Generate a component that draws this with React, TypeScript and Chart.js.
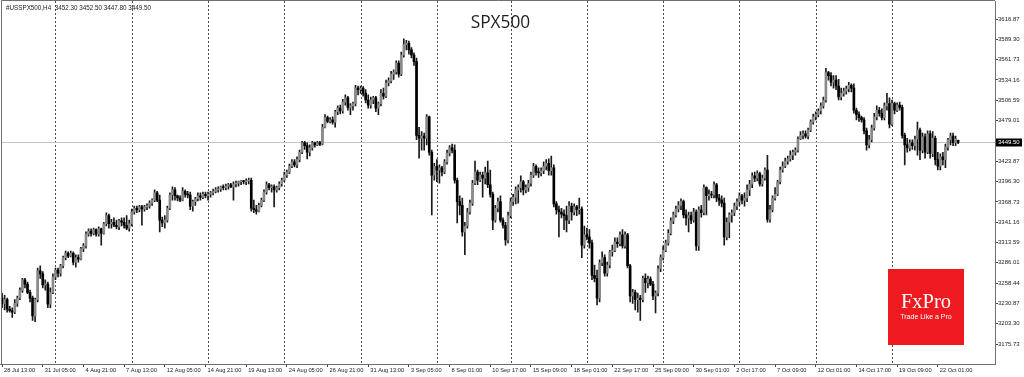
import React, { useEffect, useRef } from "react";
import { Chart, registerables } from "chart.js";

Chart.register(...registerables);

const symbolHeader = "#USSPX500,H4  3452.30 3452.50 3447.80 3449.50";
const chartTitle = "SPX500";
const logoMain = "FxPro";
const logoSub = "Trade Like a Pro";

const opens = [
  3238,3231,3236,3223,3221,3219,3231,3238,3249,3263,
  3257,3246,3238,3214,3236,3275,3271,3256,3257,3230,
  3246,3267,3276,3272,3282,3293,3299,3295,3299,3287,
  3293,3291,3305,3309,3325,3329,3326,3331,3325,3332,
  3326,3339,3350,3339,3341,3337,3335,3343,3341,3337,
  3333,3339,3355,3360,3358,3362,3359,3362,3363,3367,
  3371,3381,3371,3344,3340,3344,3360,3378,3385,3377,
  3374,3371,3383,3379,3378,3363,3369,3373,3377,3375,
  3379,3377,3379,3381,3383,3385,3386,3389,3388,3390,
  3392,3389,3393,3394,3396,3397,3396,3397,3398,3360,
  3358,3356,3364,3371,3382,3392,3388,3389,3385,3388,
  3393,3398,3405,3409,3417,3423,3419,3426,3436,3449,
  3445,3436,3442,3449,3446,3449,3447,3470,3483,3478,
  3480,3477,3491,3496,3492,3504,3510,3497,3499,3502,
  3523,3521,3523,3516,3507,3500,3507,3510,3496,3502,
  3516,3512,3530,3533,3542,3545,3557,3542,3568,3582,
  3584,3575,3568,3559,3459,3455,3458,3455,3484,3436,
  3405,3417,3412,3415,3409,3423,3435,3442,3439,3398,
  3369,3364,3328,3336,3355,3367,3394,3409,3398,3405,
  3401,3408,3392,3379,3344,3360,3369,3344,3337,3317,
  3350,3369,3375,3385,3388,3396,3385,3388,3394,3405,
  3417,3409,3408,3411,3417,3421,3411,3415,3366,3358,
  3355,3352,3350,3344,3363,3355,3362,3358,3359,3310,
  3324,3321,3313,3269,3265,3238,3286,3293,3272,3283,
  3301,3303,3314,3312,3324,3309,3324,3282,3241,3246,
  3236,3238,3236,3265,3259,3264,3257,3241,3245,3278,
  3293,3303,3313,3326,3343,3351,3359,3364,3369,3351,
  3347,3350,3344,3355,3309,3358,3354,3388,3377,3379,
  3378,3392,3374,3371,3367,3321,3341,3351,3354,3363,
  3369,3377,3371,3374,3385,3393,3404,3401,3407,3393,
  3401,3412,3345,3358,3374,3379,3396,3412,3417,3424,
  3427,3432,3436,3439,3454,3459,3461,3458,3466,3477,
  3484,3487,3492,3499,3507,3544,3540,3531,3534,3526,
  3511,3516,3519,3522,3527,3523,3493,3487,3483,3480,
  3465,3446,3453,3469,3484,3493,3489,3483,3499,3502,
  3474,3502,3493,3500,3497,3459,3446,3442,3449,3445,
  3454,3466,3439,3457,3436,3461,3434,3455,3426,3417,
  3430,3426,3443,3453,3458,3449,3452.3,
];

const highs = [
  3245,3242,3238,3227,3225,3236,3241,3252,3265,3265,
  3260,3249,3241,3238,3279,3282,3274,3263,3260,3252,
  3271,3279,3279,3284,3295,3302,3301,3302,3301,3297,
  3297,3307,3312,3328,3332,3332,3333,3332,3335,3333,
  3341,3354,3352,3345,3347,3344,3345,3347,3347,3350,
  3344,3359,3363,3363,3364,3364,3364,3366,3370,3373,
  3385,3383,3378,3348,3350,3363,3381,3389,3388,3378,
  3377,3388,3385,3383,3382,3371,3375,3381,3381,3382,
  3382,3382,3383,3386,3388,3389,3390,3392,3393,3394,
  3394,3396,3397,3397,3398,3398,3400,3401,3401,3371,
  3364,3367,3374,3385,3396,3394,3392,3392,3390,3396,
  3401,3409,3412,3420,3426,3426,3430,3439,3451,3451,
  3449,3446,3451,3450,3451,3451,3474,3487,3485,3483,
  3484,3493,3499,3500,3508,3514,3512,3502,3504,3527,
  3526,3526,3525,3521,3514,3511,3512,3512,3504,3521,
  3523,3534,3537,3546,3548,3560,3560,3572,3590,3588,
  3587,3578,3571,3564,3470,3464,3462,3487,3485,3439,
  3421,3426,3419,3417,3426,3439,3445,3447,3446,3401,
  3377,3374,3341,3360,3371,3398,3424,3412,3409,3409,
  3416,3424,3412,3382,3364,3374,3377,3347,3341,3355,
  3374,3379,3389,3392,3404,3398,3392,3398,3409,3421,
  3419,3415,3415,3423,3426,3427,3431,3419,3369,3363,
  3360,3358,3363,3369,3367,3366,3364,3374,3362,3336,
  3333,3331,3317,3283,3276,3290,3301,3297,3287,3303,
  3310,3320,3320,3328,3331,3328,3326,3284,3250,3249,
  3245,3242,3268,3271,3268,3267,3261,3248,3282,3297,
  3309,3317,3331,3347,3355,3363,3369,3373,3371,3358,
  3355,3355,3360,3358,3362,3364,3392,3389,3385,3383,
  3396,3394,3379,3377,3374,3347,3354,3358,3367,3373,
  3381,3379,3381,3392,3398,3408,3409,3411,3409,3405,
  3415,3432,3364,3377,3388,3398,3416,3423,3428,3431,
  3438,3439,3442,3457,3464,3465,3465,3469,3480,3488,
  3491,3495,3503,3511,3550,3546,3544,3540,3540,3535,
  3523,3523,3526,3531,3529,3529,3496,3491,3485,3483,
  3469,3459,3473,3489,3499,3497,3495,3503,3516,3510,
  3507,3504,3503,3504,3500,3462,3455,3453,3453,3458,
  3477,3469,3462,3461,3465,3465,3464,3458,3436,3434,
  3436,3447,3455,3462,3462,3458,3452.5,
];

const lows = [
  3225,3222,3219,3219,3212,3217,3227,3236,3246,3252,
  3244,3233,3208,3206,3233,3265,3252,3249,3225,3225,
  3244,3263,3267,3268,3279,3290,3293,3294,3283,3280,
  3287,3290,3301,3306,3322,3322,3324,3322,3322,3310,
  3325,3336,3333,3333,3335,3332,3331,3336,3333,3331,
  3329,3336,3352,3354,3355,3337,3356,3358,3360,3364,
  3369,3369,3328,3335,3333,3341,3358,3371,3371,3370,
  3369,3370,3375,3374,3358,3356,3364,3370,3371,3373,
  3374,3371,3375,3378,3381,3382,3383,3385,3385,3386,
  3388,3371,3389,3390,3392,3393,3392,3393,3356,3354,
  3352,3355,3362,3369,3379,3385,3382,3362,3382,3385,
  3390,3396,3402,3407,3415,3416,3415,3423,3434,3440,
  3427,3431,3439,3443,3445,3445,3446,3469,3476,3476,
  3474,3470,3487,3488,3489,3500,3493,3487,3493,3499,
  3514,3516,3512,3503,3496,3496,3502,3491,3487,3499,
  3508,3510,3526,3530,3535,3542,3538,3540,3565,3575,
  3569,3564,3554,3453,3428,3439,3439,3446,3432,3351,
  3398,3396,3394,3404,3407,3420,3431,3435,3394,3340,
  3351,3322,3297,3333,3352,3364,3392,3392,3396,3375,
  3393,3388,3375,3331,3341,3355,3341,3333,3310,3313,
  3347,3364,3366,3367,3382,3378,3381,3383,3390,3402,
  3405,3402,3404,3407,3412,3405,3405,3362,3352,3321,
  3347,3331,3328,3339,3344,3351,3350,3352,3293,3306,
  3317,3306,3263,3260,3229,3233,3282,3268,3268,3279,
  3295,3301,3307,3309,3306,3306,3279,3233,3231,3222,
  3219,3208,3233,3246,3252,3255,3236,3218,3241,3274,
  3290,3301,3310,3324,3339,3348,3355,3358,3347,3337,
  3328,3339,3341,3303,3303,3348,3351,3351,3371,3374,
  3374,3369,3364,3362,3310,3317,3320,3341,3350,3358,
  3364,3366,3363,3369,3377,3388,3396,3397,3390,3390,
  3398,3341,3341,3355,3371,3377,3393,3409,3415,3420,
  3424,3426,3432,3436,3453,3454,3455,3454,3464,3474,
  3480,3484,3488,3496,3504,3534,3526,3523,3521,3507,
  3507,3512,3515,3518,3518,3489,3480,3478,3477,3461,
  3439,3442,3450,3466,3480,3485,3480,3480,3493,3469,
  3472,3488,3491,3493,3455,3419,3436,3438,3440,3439,
  3432,3426,3435,3428,3434,3428,3430,3419,3412,3412,
  3419,3415,3439,3446,3445,3445,3447.8,
];

const closes = [
  3231,3236,3223,3221,3219,3231,3238,3249,3263,3257,
  3246,3238,3214,3236,3275,3271,3256,3257,3230,3246,
  3267,3276,3272,3282,3293,3299,3295,3299,3287,3293,
  3291,3305,3309,3325,3329,3326,3331,3325,3332,3326,
  3339,3350,3339,3341,3337,3335,3343,3341,3337,3333,
  3339,3355,3360,3358,3362,3359,3362,3363,3367,3371,
  3381,3371,3344,3340,3344,3360,3378,3385,3377,3374,
  3371,3383,3379,3378,3363,3369,3373,3377,3375,3379,
  3377,3379,3381,3383,3385,3386,3389,3388,3390,3392,
  3389,3393,3394,3396,3397,3396,3397,3398,3360,3358,
  3356,3364,3371,3382,3392,3388,3389,3385,3388,3393,
  3398,3405,3409,3417,3423,3419,3426,3436,3449,3445,
  3436,3442,3449,3446,3449,3447,3470,3483,3478,3480,
  3477,3491,3496,3492,3504,3510,3497,3499,3502,3523,
  3521,3523,3516,3507,3500,3507,3510,3496,3502,3516,
  3512,3530,3533,3542,3545,3557,3542,3568,3582,3584,
  3575,3568,3559,3459,3455,3458,3455,3484,3436,3405,
  3417,3412,3415,3409,3423,3435,3442,3439,3398,3369,
  3364,3328,3336,3355,3367,3394,3409,3398,3405,3401,
  3408,3392,3379,3344,3360,3369,3344,3337,3317,3350,
  3369,3375,3385,3388,3396,3385,3388,3394,3405,3417,
  3409,3408,3411,3417,3421,3411,3415,3366,3358,3355,
  3352,3350,3344,3363,3355,3362,3358,3359,3310,3324,
  3321,3313,3269,3265,3238,3286,3293,3272,3283,3301,
  3303,3314,3312,3324,3309,3324,3282,3241,3246,3236,
  3238,3236,3265,3259,3264,3257,3241,3245,3278,3293,
  3303,3313,3326,3343,3351,3359,3364,3369,3351,3347,
  3350,3344,3355,3309,3358,3354,3388,3377,3379,3378,
  3392,3374,3371,3367,3321,3341,3351,3354,3363,3369,
  3377,3371,3374,3385,3393,3404,3401,3407,3393,3401,
  3412,3345,3358,3374,3379,3396,3412,3417,3424,3427,
  3432,3436,3439,3454,3459,3461,3458,3466,3477,3484,
  3487,3492,3499,3507,3544,3540,3531,3534,3526,3511,
  3516,3519,3522,3527,3523,3493,3487,3483,3480,3465,
  3446,3453,3469,3484,3493,3489,3483,3499,3502,3474,
  3502,3493,3500,3497,3459,3446,3442,3449,3445,3454,
  3466,3439,3457,3436,3461,3434,3455,3426,3417,3430,
  3426,3443,3453,3458,3449,3454,3449.5,
];

const xTickBars = [0,16,32,48,64,80,96,112,128,144,160,176,192,208,224,240,256,272,288,304,320,336,352,368];
const xTickLabels = [
  "28 Jul 13:00","31 Jul 05:00","4 Aug 21:00","7 Aug 13:00","12 Aug 05:00","14 Aug 21:00",
  "19 Aug 13:00","24 Aug 05:00","26 Aug 21:00","31 Aug 13:00","3 Sep 05:00","8 Sep 01:00",
  "10 Sep 17:00","15 Sep 09:00","18 Sep 01:00","22 Sep 17:00","25 Sep 09:00","30 Sep 01:00",
  "2 Oct 17:00","7 Oct 09:00","12 Oct 01:00","14 Oct 17:00","19 Oct 09:00","22 Oct 01:00",
];
const weekStartBars = [21,51,81,111,141,171,200,230,260,290,320,350];
const yTickValues = [3616.87,3589.30,3561.73,3534.16,3506.59,3479.01,3423.87,3396.30,3368.73,3341.16,3313.59,3286.01,3258.44,3230.87,3203.30,3175.73];
const lastPrice = 3449.5;
const Y_MIN = 3148.7;
const Y_MAX = 3641.3;
const SLOT_COUNT = 391;

const BULL = "#8a8a8a";
const BEAR = "#000000";
const SANS = '"Liberation Sans", Arial, sans-serif';

export default function App() {
  const ref = useRef<HTMLCanvasElement>(null);

  useEffect(() => {
    document.body.style.margin = "0";
    const canvas = ref.current;
    if (!canvas) return;
    const labels = Array.from({ length: SLOT_COUNT }, (_, i) => String(i));
    const bodyData = opens.map((o, i) => [o, closes[i]]);
    const wickData = lows.map((l, i) => [l, highs[i]]);
    const bodyColors = opens.map((o, i) => (closes[i] >= o ? BULL : BEAR));

    const overlay = {
      id: "mt4Overlay",
      beforeDatasetsDraw(chart: any) {
        const { ctx, chartArea: a, scales } = chart;
        const x = scales.x;
        const y = scales.y;
        ctx.save();
        ctx.strokeStyle = "#4a4a4a";
        ctx.lineWidth = 1;
        ctx.setLineDash([2, 2]);
        for (const b of weekStartBars) {
          const px = Math.round(x.getPixelForValue(b)) + 0.5;
          ctx.beginPath();
          ctx.moveTo(px, a.top);
          ctx.lineTo(px, a.bottom);
          ctx.stroke();
        }
        ctx.setLineDash([]);
        const py = Math.round(y.getPixelForValue(lastPrice)) + 0.5;
        ctx.strokeStyle = "#c4c4c4";
        ctx.beginPath();
        ctx.moveTo(a.left, py);
        ctx.lineTo(a.right, py);
        ctx.stroke();
        ctx.restore();
      },
      afterDraw(chart: any) {
        const { ctx, chartArea: a, scales } = chart;
        const y = scales.y;
        ctx.save();
        // frame (top / left)
        ctx.strokeStyle = "#707070";
        ctx.lineWidth = 1;
        ctx.beginPath();
        ctx.moveTo(a.left + 0.7, a.bottom);
        ctx.lineTo(a.left + 0.7, a.top - 0.5);
        ctx.lineTo(a.right, a.top - 0.5);
        ctx.stroke();
        // current price tag
        const py = y.getPixelForValue(lastPrice);
        ctx.fillStyle = "#000";
        ctx.fillRect(a.right + 1, Math.round(py) - 3.5, 26, 8);
        ctx.fillStyle = "#fff";
        ctx.font = `6px ${SANS}`;
        ctx.textBaseline = "middle";
        ctx.textAlign = "left";
        ctx.fillText(lastPrice.toFixed(2), a.right + 3, py + 0.5);
        // header
        ctx.fillStyle = "#222";
        ctx.textBaseline = "alphabetic";
        ctx.font = `6.3px ${SANS}`;
        ctx.fillText(symbolHeader, 6, 10);
        // title
        ctx.font = '17.3px "Open Sans", sans-serif';
        ctx.fillStyle = "#1e1e1e";
        ctx.fillText(chartTitle, 470.7, 28.3);
        // logo
        ctx.fillStyle = "#ef1a1f";
        ctx.fillRect(888, 269, 76, 76);
        ctx.fillStyle = "#fff";
        ctx.textAlign = "center";
        ctx.font = '20.5px "Liberation Serif", serif';
        ctx.fillText(logoMain, 926, 308.3);
        ctx.font = `7px ${SANS}`;
        ctx.fillText(logoSub, 926, 318.8);
        ctx.restore();
      },
    };

    const chart = new Chart(canvas, {
      type: "bar",
      data: {
        labels,
        datasets: [
          {
            label: "body",
            data: bodyData as any,
            backgroundColor: bodyColors,
            borderWidth: 0,
            barThickness: 2,
            minBarLength: 1,
            grouped: false,
            order: 0,
          } as any,
          {
            label: "wick",
            data: wickData as any,
            backgroundColor: "#1a1a1a",
            borderWidth: 0,
            barThickness: 1,
            grouped: false,
            order: 1,
          } as any,
        ],
      },
      options: {
        animation: false,
        responsive: false,
        maintainAspectRatio: false,
        devicePixelRatio: 1,
        events: [],
        layout: { padding: { top: 1, left: 0.8, right: 0, bottom: 0 } },
        plugins: {
          legend: { display: false },
          tooltip: { enabled: false },
          title: { display: false },
        },
        scales: {
          x: {
            type: "category",
            offset: true,
            grid: {
              display: true,
              drawOnChartArea: false,
              drawTicks: true,
              tickLength: 3,
              offset: false,
              color: (c: any) => (xTickBars.includes(c.index) ? "#444" : "rgba(0,0,0,0)"),
            },
            border: { display: true, color: "#707070" },
            ticks: {
              autoSkip: false,
              maxRotation: 0,
              minRotation: 0,
              align: "start",
              labelOffset: 2,
              padding: 0,
              color: "#222",
              font: { family: SANS, size: 5.7 },
              callback: (_v: any, index: number) => {
                const k = xTickBars.indexOf(index);
                return k >= 0 ? xTickLabels[k] : "";
              },
            },
            afterFit: (s: any) => {
              s.height = 13;
              s.paddingLeft = 0;
              s.paddingRight = 0;
            },
          } as any,
          y: {
            type: "linear",
            position: "right",
            min: Y_MIN,
            max: Y_MAX,
            afterBuildTicks: (s: any) => {
              s.ticks = yTickValues.map((v) => ({ value: v }));
            },
            grid: { drawOnChartArea: false, drawTicks: true, tickLength: 3, color: "#444" },
            border: { display: true, color: "#707070" },
            ticks: {
              autoSkip: false,
              padding: 0,
              color: "#222",
              font: { family: SANS, size: 6 },
              callback: (v: any) => Number(v).toFixed(2),
            },
            afterFit: (s: any) => {
              s.width = 29;
              s.paddingTop = 0;
              s.paddingBottom = 0;
            },
          } as any,
        },
      },
      plugins: [overlay],
    });
    return () => chart.destroy();
  }, []);

  return (
    <div style={{ position: "fixed", left: 0, top: 0, width: 1024, height: 377, background: "#fff" }}>
      <canvas ref={ref} width={1024} height={377} style={{ display: "block", width: 1024, height: 377 }} />
    </div>
  );
}
